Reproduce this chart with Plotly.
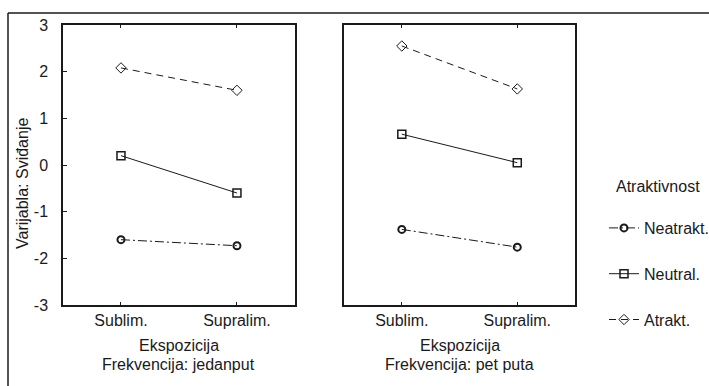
import plotly.graph_objects as go

categories = ["Sublim.", "Supralim."]
series_names = ["Neatrakt.", "Neutral.", "Atrakt."]
# panel 1: Frekvencija: jedanput
jedanput = {
    "Neatrakt.": [-1.60, -1.73],
    "Neutral.": [0.20, -0.60],
    "Atrakt.": [2.08, 1.60],
}
# panel 2: Frekvencija: pet puta
pet_puta = {
    "Neatrakt.": [-1.38, -1.76],
    "Neutral.": [0.66, 0.05],
    "Atrakt.": [2.55, 1.63],
}
y_ticks = [-3, -2, -1, 0, 1, 2, 3]
y_ticktext = ["-3", "-2", "-1", "0", "1", "2", "3"]

styles = {
    "Neatrakt.": dict(dash="9px,3px,2px,3px", symbol="circle-open", msize=7, mlw=2.0),
    "Neutral.": dict(dash="solid", symbol="square-open", msize=8, mlw=1.5),
    "Atrakt.": dict(dash="7px,5px", symbol="diamond-open", msize=8, mlw=1.0),
}
FONT = "Liberation Sans, Arial, sans-serif"
INK = "#1a1a1a"
FS = 16

fig = go.Figure()
for panel, (data, xa, ya) in enumerate([(jedanput, "x", "y"), (pet_puta, "x2", "y2")]):
    for name in series_names:
        s = styles[name]
        fig.add_trace(go.Scatter(
            x=categories, y=data[name], xaxis=xa, yaxis=ya,
            mode="lines+markers", name=name,
            legendgroup=name, showlegend=(panel == 0),
            line=dict(color=INK, width=1, dash=s["dash"]),
            marker=dict(symbol=s["symbol"], size=s["msize"], color=INK,
                        line=dict(color=INK, width=s["mlw"])),
        ))

base = dict(showline=True, linecolor=INK, linewidth=1.5,
            showgrid=False, zeroline=False)
xax = dict(type="category", range=[-0.5, 1.5], ticks="inside", ticklen=3,
           tickcolor=INK, mirror="ticks", **base)
fig.update_layout(
    width=709, height=386,
    margin=dict(l=63, r=134, t=25, b=81, autoexpand=False),
    paper_bgcolor="white", plot_bgcolor="white",
    font=dict(family=FONT, size=FS, color=INK),
    xaxis=dict(domain=[0, 0.453], **xax),
    xaxis2=dict(domain=[0.549, 1.0], **xax),
    yaxis=dict(range=[-3, 3], tickvals=y_ticks, ticktext=y_ticktext,
               ticks="inside", ticklen=4, tickcolor=INK, mirror=True,
               ticklabelstandoff=10, **base),
    yaxis2=dict(range=[-3, 3], tickvals=y_ticks, showticklabels=False,
                anchor="x2", ticks="", mirror=True, **base),
    legend=dict(
        x=(604 - 63) / 512, y=(305 - 211) / 280, xanchor="left", yanchor="top",
        font=dict(size=FS), tracegroupgap=22,
        traceorder="grouped", bgcolor="rgba(0,0,0,0)",
    ),
    showlegend=True,
)

annotations = [
    dict(text="Atraktivnost", x=(658 - 63) / 512, y=(305 - 187) / 280,
         xref="paper", yref="paper", xanchor="center", yanchor="middle",
         showarrow=False),
    dict(text="Varijabla: Sviđanje", textangle=-90, x=(22 - 63) / 512,
         y=(305 - 184) / 280, xanchor="center", yanchor="middle",
         xref="paper", yref="paper", showarrow=False),
    dict(text="Ekspozicija", x=0.5, xref="x domain", y=(305 - 345) / 280,
         yref="paper", xanchor="center", yanchor="middle", showarrow=False),
    dict(text="Ekspozicija", x=0.5, xref="x2 domain", y=(305 - 345) / 280,
         yref="paper", xanchor="center", yanchor="middle", showarrow=False),
    dict(text="Frekvencija: jedanput", x=0.5, xref="x domain",
         y=(305 - 364) / 280, yref="paper", xanchor="center",
         yanchor="middle", showarrow=False),
    dict(text="Frekvencija: pet puta", x=0.5, xref="x2 domain",
         y=(305 - 364) / 280, yref="paper", xanchor="center",
         yanchor="middle", showarrow=False),
]
fig.update_layout(annotations=annotations)

# outer frame (top and left edges; right/bottom run off the page)
fx0 = (8 - 63) / 512
fy1 = (305 - 13) / 280
fig.add_shape(type="line", xref="paper", yref="paper",
              x0=fx0, x1=1.6, y0=fy1, y1=fy1,
              line=dict(color=INK, width=1.5), layer="below")
fig.add_shape(type="line", xref="paper", yref="paper",
              x0=fx0, x1=fx0, y0=-0.8, y1=fy1,
              line=dict(color=INK, width=1.5), layer="below")

fig.write_html("out.html")
